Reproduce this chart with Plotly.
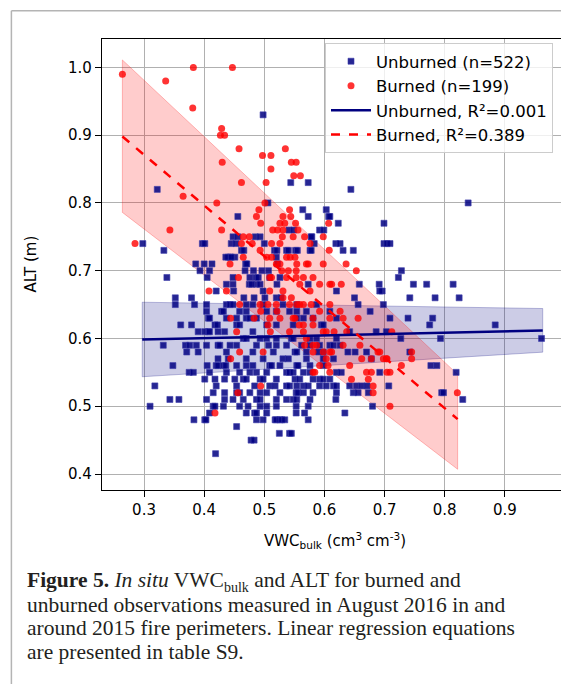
import plotly.graph_objects as go

# (VWC_bulk, ALT) observations
unburned_obs = [
    (0.498, 0.93), (0.322, 0.82), (0.644, 0.82), (0.544, 0.83), (0.573, 0.83), (0.839, 0.80), (0.506, 0.80),
    (0.564, 0.79), (0.603, 0.79), (0.456, 0.78), (0.573, 0.78), (0.607, 0.78), (0.609, 0.78),
    (0.623, 0.77), (0.699, 0.77), (0.541, 0.76), (0.549, 0.76), (0.592, 0.76), (0.599, 0.76),
    (0.448, 0.75), (0.456, 0.75), (0.485, 0.75), (0.493, 0.75), (0.579, 0.75), (0.578, 0.75),
    (0.298, 0.74), (0.397, 0.74), (0.401, 0.74), (0.445, 0.74), (0.453, 0.74), (0.500, 0.74), (0.583, 0.74),
    (0.619, 0.74), (0.626, 0.74), (0.699, 0.74), (0.704, 0.74), (0.709, 0.74),
    (0.333, 0.73), (0.462, 0.73), (0.466, 0.73), (0.517, 0.73), (0.521, 0.73), (0.537, 0.73), (0.540, 0.73),
    (0.552, 0.73), (0.555, 0.73), (0.576, 0.73), (0.578, 0.73), (0.631, 0.73), (0.648, 0.73),
    (0.440, 0.72), (0.443, 0.72), (0.451, 0.72), (0.436, 0.72), (0.445, 0.72), (0.520, 0.72),
    (0.386, 0.71), (0.400, 0.71), (0.413, 0.71), (0.469, 0.71), (0.471, 0.71), (0.522, 0.71),
    (0.409, 0.70), (0.393, 0.70), (0.468, 0.70), (0.482, 0.70), (0.496, 0.70), (0.507, 0.70), (0.728, 0.70),
    (0.338, 0.69), (0.405, 0.69), (0.448, 0.69), (0.486, 0.69), (0.476, 0.69), (0.490, 0.69), (0.509, 0.69),
    (0.526, 0.69), (0.723, 0.69),
    (0.437, 0.68), (0.448, 0.68), (0.475, 0.68), (0.487, 0.68), (0.479, 0.68), (0.493, 0.68), (0.521, 0.68),
    (0.573, 0.68), (0.658, 0.68), (0.691, 0.68), (0.748, 0.68), (0.770, 0.68), (0.814, 0.68),
    (0.420, 0.67), (0.449, 0.67), (0.498, 0.67), (0.620, 0.67), (0.696, 0.67), (0.692, 0.67),
    (0.352, 0.66), (0.379, 0.66), (0.466, 0.66), (0.483, 0.66), (0.501, 0.66), (0.520, 0.66), (0.528, 0.66),
    (0.650, 0.66), (0.742, 0.66), (0.784, 0.66), (0.824, 0.66),
    (0.352, 0.65), (0.384, 0.65), (0.404, 0.65), (0.437, 0.65), (0.443, 0.65), (0.448, 0.65), (0.470, 0.65),
    (0.481, 0.65), (0.498, 0.65), (0.531, 0.65), (0.554, 0.65), (0.587, 0.65), (0.656, 0.65), (0.698, 0.65),
    (0.404, 0.64), (0.429, 0.64), (0.432, 0.64), (0.459, 0.64), (0.470, 0.64), (0.504, 0.64), (0.520, 0.64),
    (0.542, 0.64), (0.554, 0.64), (0.570, 0.64), (0.609, 0.64), (0.676, 0.64),
    (0.407, 0.63), (0.409, 0.63), (0.437, 0.63), (0.454, 0.63), (0.470, 0.63), (0.476, 0.63), (0.487, 0.63),
    (0.554, 0.63), (0.565, 0.63), (0.581, 0.63), (0.620, 0.63), (0.709, 0.63), (0.739, 0.63), (0.780, 0.63),
    (0.361, 0.62), (0.379, 0.62), (0.418, 0.62), (0.422, 0.62), (0.454, 0.62), (0.459, 0.62), (0.504, 0.62),
    (0.520, 0.62), (0.548, 0.62), (0.595, 0.62), (0.598, 0.62), (0.775, 0.62), (0.884, 0.62),
    (0.390, 0.61), (0.401, 0.61), (0.407, 0.61), (0.409, 0.61), (0.423, 0.61), (0.434, 0.61), (0.481, 0.61),
    (0.642, 0.61), (0.686, 0.61), (0.703, 0.61),
    (0.465, 0.60), (0.470, 0.60), (0.493, 0.60), (0.504, 0.60), (0.520, 0.60), (0.545, 0.60), (0.548, 0.60),
    (0.576, 0.60), (0.587, 0.60), (0.620, 0.60), (0.727, 0.60), (0.793, 0.60), (0.961, 0.60),
    (0.332, 0.59), (0.369, 0.59), (0.376, 0.59), (0.387, 0.59), (0.404, 0.59), (0.423, 0.59), (0.426, 0.59),
    (0.443, 0.59), (0.454, 0.59), (0.487, 0.59), (0.507, 0.59), (0.520, 0.59), (0.537, 0.59), (0.562, 0.59),
    (0.576, 0.59), (0.592, 0.59), (0.609, 0.59), (0.615, 0.59), (0.626, 0.59),
    (0.371, 0.58), (0.390, 0.58), (0.437, 0.58), (0.481, 0.58), (0.515, 0.58), (0.551, 0.58), (0.554, 0.58),
    (0.570, 0.58), (0.590, 0.58), (0.598, 0.58), (0.639, 0.58), (0.651, 0.58), (0.670, 0.58), (0.742, 0.58),
    (0.423, 0.57), (0.440, 0.57), (0.470, 0.57), (0.498, 0.57), (0.531, 0.57), (0.540, 0.57), (0.570, 0.57),
    (0.598, 0.57), (0.615, 0.57), (0.678, 0.57),
    (0.348, 0.56), (0.405, 0.56), (0.420, 0.56), (0.423, 0.56), (0.432, 0.56), (0.436, 0.56), (0.454, 0.56),
    (0.470, 0.56), (0.481, 0.56), (0.509, 0.56), (0.512, 0.56), (0.526, 0.56), (0.554, 0.56), (0.556, 0.56),
    (0.576, 0.56), (0.598, 0.56), (0.777, 0.56), (0.787, 0.56),
    (0.375, 0.55), (0.382, 0.55), (0.409, 0.55), (0.437, 0.55), (0.459, 0.55), (0.476, 0.55), (0.487, 0.55),
    (0.504, 0.55), (0.537, 0.55), (0.542, 0.55), (0.548, 0.55), (0.565, 0.55), (0.576, 0.55), (0.620, 0.55),
    (0.628, 0.55), (0.692, 0.55), (0.819, 0.55),
    (0.401, 0.54), (0.418, 0.54), (0.434, 0.54), (0.451, 0.54), (0.465, 0.54), (0.470, 0.54), (0.493, 0.54),
    (0.498, 0.54), (0.520, 0.54), (0.551, 0.54), (0.559, 0.54), (0.581, 0.54), (0.592, 0.54), (0.598, 0.54),
    (0.609, 0.54),
    (0.318, 0.53), (0.420, 0.53), (0.454, 0.53), (0.484, 0.53), (0.509, 0.53), (0.518, 0.53), (0.537, 0.53),
    (0.542, 0.53), (0.554, 0.53), (0.565, 0.53), (0.573, 0.53), (0.592, 0.53), (0.603, 0.53), (0.615, 0.53),
    (0.620, 0.53), (0.642, 0.53), (0.653, 0.53), (0.662, 0.53), (0.671, 0.53), (0.707, 0.53),
    (0.415, 0.52), (0.434, 0.52), (0.454, 0.52), (0.459, 0.52), (0.476, 0.52), (0.493, 0.52), (0.504, 0.52),
    (0.526, 0.52), (0.553, 0.52), (0.556, 0.52), (0.565, 0.52), (0.581, 0.52), (0.620, 0.52), (0.648, 0.52),
    (0.656, 0.52), (0.673, 0.52), (0.795, 0.52), (0.798, 0.52),
    (0.343, 0.51), (0.358, 0.51), (0.404, 0.51), (0.434, 0.51), (0.448, 0.51), (0.465, 0.51), (0.487, 0.51),
    (0.493, 0.51), (0.520, 0.51), (0.537, 0.51), (0.548, 0.51), (0.554, 0.51), (0.576, 0.51), (0.619, 0.51),
    (0.830, 0.51),
    (0.310, 0.50), (0.415, 0.50), (0.418, 0.50), (0.432, 0.50), (0.459, 0.50), (0.473, 0.50), (0.493, 0.50),
    (0.504, 0.50), (0.520, 0.50), (0.553, 0.50), (0.573, 0.50), (0.680, 0.50),
    (0.409, 0.49), (0.470, 0.49), (0.484, 0.49), (0.487, 0.49), (0.504, 0.49), (0.553, 0.49), (0.567, 0.49),
    (0.634, 0.49),
    (0.383, 0.48), (0.401, 0.48), (0.403, 0.48), (0.487, 0.48), (0.498, 0.48), (0.518, 0.48), (0.520, 0.48),
    (0.526, 0.48), (0.529, 0.48), (0.534, 0.48), (0.573, 0.48),
    (0.454, 0.47), (0.525, 0.46), (0.542, 0.46), (0.545, 0.46), (0.478, 0.45), (0.483, 0.45), (0.419, 0.43),
]

burned_obs = [
    (0.264, 0.99), (0.336, 0.98), (0.382, 1.00), (0.447, 1.00), (0.381, 0.94), (0.429, 0.91), (0.427, 0.90),
    (0.434, 0.90), (0.458, 0.88), (0.535, 0.88), (0.430, 0.86), (0.545, 0.86), (0.553, 0.86), (0.497, 0.87),
    (0.511, 0.87), (0.511, 0.85), (0.549, 0.84), (0.560, 0.84),
    (0.462, 0.83), (0.503, 0.83), (0.365, 0.81), (0.421, 0.80), (0.501, 0.80),
    (0.491, 0.79), (0.542, 0.79), (0.487, 0.78), (0.531, 0.78), (0.544, 0.78), (0.494, 0.77), (0.526, 0.77),
    (0.534, 0.77), (0.552, 0.77), (0.607, 0.77),
    (0.343, 0.76), (0.429, 0.76), (0.514, 0.76), (0.522, 0.76), (0.531, 0.76), (0.556, 0.76),
    (0.465, 0.75), (0.475, 0.75), (0.530, 0.75), (0.548, 0.75), (0.567, 0.75), (0.598, 0.75),
    (0.285, 0.74), (0.462, 0.74), (0.480, 0.74), (0.512, 0.74), (0.526, 0.74), (0.576, 0.74),
    (0.493, 0.73), (0.608, 0.73),
    (0.465, 0.72), (0.504, 0.72), (0.512, 0.72), (0.537, 0.72), (0.543, 0.72), (0.551, 0.72),
    (0.443, 0.71), (0.520, 0.71), (0.526, 0.71), (0.554, 0.71), (0.570, 0.71), (0.573, 0.71), (0.598, 0.71),
    (0.636, 0.71),
    (0.529, 0.70), (0.540, 0.70), (0.553, 0.70), (0.653, 0.70),
    (0.457, 0.69), (0.509, 0.69), (0.512, 0.69), (0.537, 0.69), (0.553, 0.69), (0.565, 0.69), (0.581, 0.69),
    (0.559, 0.68), (0.592, 0.68), (0.609, 0.68), (0.612, 0.68), (0.628, 0.68),
    (0.408, 0.67), (0.437, 0.67), (0.509, 0.67), (0.531, 0.67), (0.576, 0.67),
    (0.531, 0.66), (0.545, 0.66),
    (0.459, 0.65), (0.493, 0.65), (0.506, 0.65), (0.520, 0.65), (0.542, 0.65), (0.554, 0.65), (0.559, 0.65),
    (0.565, 0.65), (0.578, 0.65), (0.609, 0.65),
    (0.494, 0.64), (0.521, 0.64), (0.592, 0.64), (0.626, 0.64),
    (0.444, 0.63), (0.483, 0.63), (0.509, 0.63), (0.526, 0.63), (0.548, 0.63), (0.551, 0.63), (0.581, 0.63),
    (0.609, 0.63), (0.631, 0.63), (0.656, 0.63),
    (0.506, 0.62), (0.558, 0.62), (0.565, 0.62), (0.581, 0.62),
    (0.454, 0.61), (0.510, 0.61), (0.542, 0.61), (0.565, 0.61), (0.598, 0.61), (0.603, 0.61), (0.616, 0.61),
    (0.637, 0.61), (0.712, 0.61),
    (0.570, 0.60),
    (0.567, 0.59), (0.581, 0.59), (0.587, 0.59), (0.631, 0.59), (0.659, 0.59),
    (0.459, 0.58), (0.498, 0.58), (0.581, 0.58), (0.598, 0.58), (0.609, 0.58), (0.612, 0.58), (0.689, 0.58),
    (0.692, 0.58), (0.745, 0.58),
    (0.444, 0.57), (0.603, 0.57), (0.662, 0.57), (0.678, 0.57), (0.698, 0.57), (0.703, 0.57), (0.704, 0.57),
    (0.745, 0.57),
    (0.592, 0.56), (0.606, 0.56), (0.642, 0.56), (0.728, 0.56),
    (0.581, 0.55), (0.584, 0.55), (0.609, 0.55), (0.670, 0.55), (0.678, 0.55), (0.704, 0.55), (0.709, 0.55),
    (0.645, 0.54), (0.673, 0.54),
    (0.494, 0.53), (0.681, 0.53),
    (0.456, 0.52), (0.681, 0.52), (0.821, 0.52),
    (0.709, 0.50), (0.418, 0.49),
]

# regression lines and their bands (read at the ends of each fit)
unburned_fit_x = [0.297, 0.963]
unburned_fit_y = [0.5985, 0.6118]
unburned_band_hi = [0.6535, 0.6442]
unburned_band_lo = [0.5435, 0.5798]

burned_fit_x = [0.264, 0.8215]
burned_fit_y = [0.898, 0.481]
burned_band_hi = [1.011, 0.547]
burned_band_lo = [0.786, 0.407]

x_ticks = [0.3, 0.4, 0.5, 0.6, 0.7, 0.8, 0.9, 1.0]
y_ticks = [0.4, 0.5, 0.6, 0.7, 0.8, 0.9, 1.0]

caption_lines = [
    "<b>Figure 5.</b> <i>In situ</i> VWC<sub><span style='font-size:14px'>bulk</span></sub> and ALT for burned and",
    "unburned observations measured in August 2016 in and",
    "around 2015 fire perimeters. Linear regression equations",
    "are presented in table S9.",
]

NAVY = "#000080"
RED = "#ff0000"

fig = go.Figure()


def band(xs, hi, lo, fill, edge):
    fig.add_trace(go.Scatter(
        x=[xs[0], xs[1], xs[1], xs[0], xs[0]],
        y=[hi[0], hi[1], lo[1], lo[0], hi[0]],
        mode="lines", fill="toself", fillcolor=fill,
        line=dict(color=edge, width=1), hoverinfo="skip", showlegend=False))


band(unburned_fit_x, unburned_band_hi, unburned_band_lo, "rgba(0,0,128,0.2)", "rgba(0,0,128,0.25)")
band(burned_fit_x, burned_band_hi, burned_band_lo, "rgba(255,0,0,0.2)", "rgba(255,0,0,0.25)")

fig.add_trace(go.Scatter(
    x=[p[0] for p in unburned_obs], y=[p[1] for p in unburned_obs],
    mode="markers", name="Unburned (n=522)", legendgroup="a", legendrank=1,
    marker=dict(symbol="square", size=6, color="rgba(0,0,128,0.85)",
                line=dict(color="rgba(60,60,170,0.6)", width=1))))
fig.add_trace(go.Scatter(
    x=[p[0] for p in burned_obs], y=[p[1] for p in burned_obs],
    mode="markers", name="Burned (n=199)", legendgroup="b", legendrank=2,
    marker=dict(symbol="circle", size=7, color="rgba(255,0,0,0.8)", line=dict(width=0))))
fig.add_trace(go.Scatter(
    x=unburned_fit_x, y=unburned_fit_y, mode="lines",
    name="Unburned, R\u00b2=0.001", legendgroup="c", legendrank=3,
    line=dict(color=NAVY, width=2.5)))
fig.add_trace(go.Scatter(
    x=burned_fit_x, y=burned_fit_y, mode="lines",
    name="Burned, R\u00b2=0.389", legendgroup="d", legendrank=4,
    line=dict(color=RED, width=2.5, dash="dash")))

L, T, B = 102, 39, 490
W, H = 561 - L, B - T


def px(xp):
    return (xp - L) / W


def py(yp):
    return (B - yp) / H


axis_common = dict(
    showgrid=True, gridcolor="#b0b0b0", gridwidth=1.2, zeroline=False,
    showline=True, linecolor="black", linewidth=1.3,
    ticks="outside", ticklen=6, tickwidth=1.2, tickcolor="black",
    tickfont=dict(family="DejaVu Sans", size=15, color="black"),
)

fig.update_layout(
    width=561, height=684,
    margin=dict(l=L, r=0, t=T, b=684 - B),
    paper_bgcolor="white", plot_bgcolor="white",
    xaxis=dict(range=[0.2301, 0.9934], tickvals=x_ticks, tickformat=".1f", mirror=True, **axis_common),
    yaxis=dict(range=[0.3764, 1.0419], tickvals=y_ticks, tickformat=".1f", mirror=False, **axis_common),
    legend=dict(x=px(325), y=py(43), xanchor="left", yanchor="top",
                bgcolor="rgba(255,255,255,0.8)", bordercolor="#cccccc", borderwidth=1,
                font=dict(family="DejaVu Sans", size=16.5, color="black"),
                traceorder="grouped", tracegroupgap=0, itemwidth=40),
    showlegend=True,
)

annotations = [
    dict(text="ALT (m)", x=px(30), y=0.5, xref="paper", yref="paper", textangle=-90,
         showarrow=False, xanchor="center", yanchor="middle",
         font=dict(family="DejaVu Sans", size=15, color="black")),
    dict(text="VWC<sub>bulk</sub> (cm<sup>3</sup> cm<sup>-3</sup>)", x=px(334.5), y=py(540),
         xref="paper", yref="paper", showarrow=False, xanchor="center", yanchor="middle",
         font=dict(family="DejaVu Sans", size=15, color="black")),
]
for i, line in enumerate(caption_lines):
    annotations.append(dict(
        text=line, x=px(25), y=py(581 + 23.5 * i), xref="paper", yref="paper",
        showarrow=False, xanchor="left", yanchor="middle", align="left",
        font=dict(family="Liberation Serif", size=21.5, color="#231f20")))
fig.update_layout(annotations=annotations)

# outer figure frame
fig.add_shape(type="line", xref="paper", yref="paper", x0=px(11.4), x1=px(11.4),
              y0=py(10.7), y1=py(700), line=dict(color="#b4b4b4", width=1.5))
fig.add_shape(type="line", xref="paper", yref="paper", x0=px(11.4), x1=px(600),
              y0=py(10.7), y1=py(10.7), line=dict(color="#b4b4b4", width=1.5))

fig.write_html("out.html", config={"displayModeBar": False},
               post_script="document.body.style.margin='0px';document.body.style.overflow='hidden';")
